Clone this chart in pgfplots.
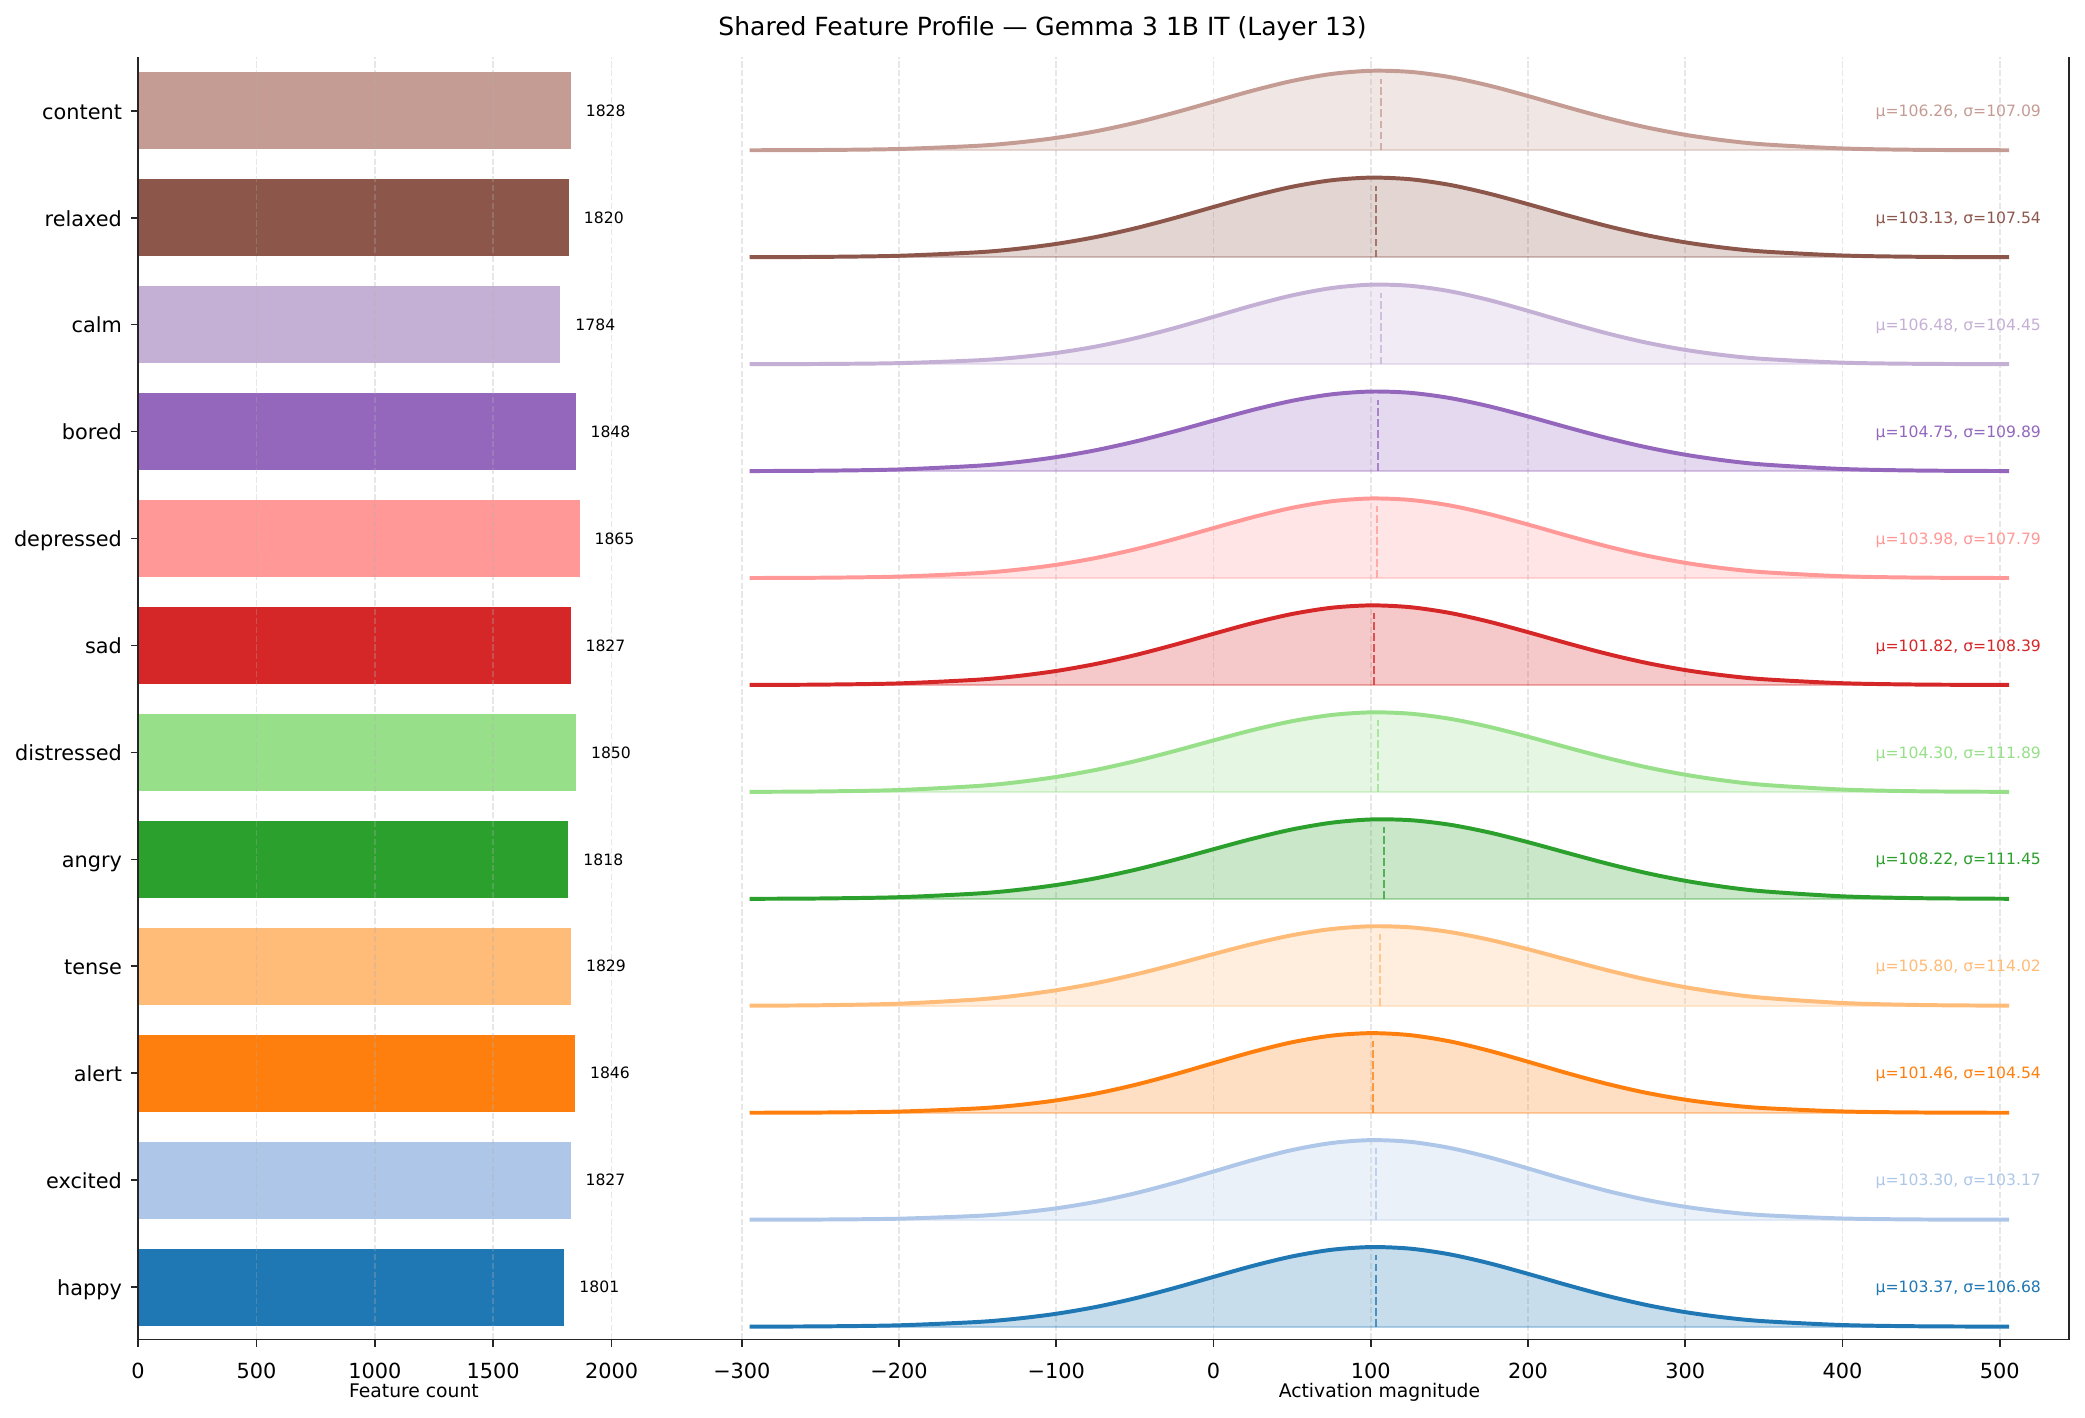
\documentclass[border=0pt]{standalone}
\usepackage{fontspec}
\setmainfont{DejaVu Sans}
\usepackage{pgfplots}
\usepackage{pgfplotstable}
\pgfplotsset{compat=1.18}

\definecolor{cHappy}{HTML}{1F77B4}
\definecolor{cExcited}{HTML}{AEC7E8}
\definecolor{cAlert}{HTML}{FF7F0E}
\definecolor{cTense}{HTML}{FFBB78}
\definecolor{cAngry}{HTML}{2CA02C}
\definecolor{cDistressed}{HTML}{98DF8A}
\definecolor{cSad}{HTML}{D62728}
\definecolor{cDepressed}{HTML}{FF9896}
\definecolor{cBored}{HTML}{9467BD}
\definecolor{cCalm}{HTML}{C5B0D5}
\definecolor{cRelaxed}{HTML}{8C564B}
\definecolor{cContent}{HTML}{C49C94}
\definecolor{gridgray}{RGB}{176,176,176}
\definecolor{spine}{RGB}{38,38,38}

% normalised density (peak = 1) of each emotion's activations
\pgfplotstableread{
x happy excited alert tense angry distressed sad depressed bored calm relaxed content
-295 0.0009 0.0006 0.0008 0.0021 0.0014 0.0017 0.0012 0.0011 0.0013 0.0006 0.0011 0.0009
-250 0.0041 0.0028 0.0035 0.0077 0.0057 0.0066 0.0052 0.0046 0.0055 0.0030 0.0046 0.0040
-200 0.0175 0.0133 0.0156 0.0274 0.0218 0.0248 0.0207 0.0188 0.0214 0.0135 0.0188 0.0168
-150 0.0596 0.0491 0.0554 0.0807 0.0683 0.0756 0.0673 0.0623 0.0681 0.0491 0.0626 0.0571
-125 0.1011 0.0864 0.0957 0.1289 0.1120 0.1225 0.1120 0.1047 0.1124 0.0858 0.1054 0.0971
-100 0.1625 0.1435 0.1562 0.1962 0.1746 0.1888 0.1767 0.1669 0.1763 0.1417 0.1680 0.1565
-75  0.2471 0.2246 0.2406 0.2845 0.2589 0.2769 0.2643 0.2519 0.2624 0.2210 0.2536 0.2387
-50  0.3558 0.3316 0.3501 0.3932 0.3651 0.3864 0.3750 0.3605 0.3710 0.3256 0.3628 0.3449
-25  0.4848 0.4615 0.4811 0.5179 0.4895 0.5129 0.5044 0.4888 0.4981 0.4528 0.4918 0.4718
0    0.6254 0.6058 0.6244 0.6502 0.6241 0.6476 0.6432 0.6280 0.6349 0.5947 0.6314 0.6112
25   0.7635 0.7498 0.7653 0.7780 0.7567 0.7779 0.7779 0.7646 0.7685 0.7377 0.7680 0.7499
50   0.8824 0.8751 0.8859 0.8871 0.8725 0.8889 0.8920 0.8822 0.8833 0.8640 0.8851 0.8711
75   0.9653 0.9631 0.9685 0.9642 0.9565 0.9663 0.9699 0.9645 0.9640 0.9556 0.9664 0.9583
100  0.9995 0.9995 0.9999 0.9987 0.9973 0.9993 0.9999 0.9993 0.9991 0.9981 0.9996 0.9983
125  0.9797 0.9781 0.9750 0.9859 0.9887 0.9830 0.9774 0.9812 0.9832 0.9844 0.9795 0.9848
150  0.9089 0.9026 0.8978 0.9276 0.9321 0.9200 0.9059 0.9129 0.9187 0.9169 0.9094 0.9200
175  0.7982 0.7855 0.7808 0.8318 0.8357 0.8190 0.7962 0.8049 0.8152 0.8064 0.7999 0.8139
200  0.6635 0.6445 0.6413 0.7109 0.7124 0.6937 0.6635 0.6725 0.6868 0.6698 0.6665 0.6817
225  0.5221 0.4987 0.4975 0.5790 0.5775 0.5589 0.5243 0.5325 0.5495 0.5253 0.5262 0.5408
250  0.3888 0.3639 0.3645 0.4494 0.4452 0.4283 0.3928 0.3995 0.4175 0.3891 0.3935 0.4062
275  0.2741 0.2504 0.2521 0.3325 0.3264 0.3123 0.2790 0.2840 0.3012 0.2721 0.2788 0.2890
300  0.1829 0.1624 0.1647 0.2345 0.2275 0.2166 0.1880 0.1914 0.2063 0.1797 0.1872 0.1947
325  0.1156 0.0994 0.1017 0.1576 0.1508 0.1429 0.1201 0.1222 0.1342 0.1121 0.1191 0.1242
350  0.0691 0.0573 0.0592 0.1009 0.0951 0.0897 0.0727 0.0739 0.0829 0.0660 0.0717 0.0750
400  0.0209 0.0160 0.0170 0.0358 0.0325 0.0304 0.0227 0.0230 0.0271 0.0193 0.0221 0.0232
450  0.0051 0.0035 0.0039 0.0105 0.0091 0.0085 0.0057 0.0058 0.0072 0.0045 0.0055 0.0058
506  0.0008 0.0005 0.0006 0.0021 0.0017 0.0016 0.0010 0.0010 0.0013 0.0007 0.0009 0.0009
}\ridges

\pgfplotsset{
  panel/.style={
    scale only axis, height=615.5pt,
    anchor=south west,
    ymin=-0.49, ymax=11.5,
    axis x line*=bottom,
    axis line style={-, line width=0.8pt, spine},
    tick align=outside, major tick length=3.5pt,
    tick style={line width=0.8pt, spine},
    xmajorgrids,
    grid style={line width=0.8pt, gridgray, opacity=0.3, dash pattern=on 2.96pt off 1.28pt},
    xticklabel style={font=\fontsize{10}{12}\selectfont, anchor=base, inner sep=0pt, yshift=-15pt},
    yticklabel style={font=\fontsize{10}{12}\selectfont, anchor=base east, inner sep=0pt, xshift=-4pt, yshift=-4pt},
    xlabel style={font=\fontsize{9}{11}\selectfont, at={(axis description cs:0.5,0)}, anchor=base, inner sep=0pt, yshift=-28pt},
    /pgf/number format/assume math mode=true,
    /pgf/number format/1000 sep={},
  },
  cbar/.style={xbar, bar width=0.72, bar shift=0pt, fill=#1, draw=none,
    nodes near coords,
    every node near coord/.append style={font=\fontsize{7.5}{9}\selectfont, text=black, anchor=west, inner sep=0pt, xshift=7pt}},
}

% #1 column, #2 colour, #3 row, #4 baseline, #5 top of mean line, #6 mean, #7 sigma
\newcommand{\ridge}[7]{%
  \addplot[draw=none, fill=#2, fill opacity=0.25, smooth] table[x=x, y expr={\thisrow{#1}*0.745+(#4)}] {\ridges};
  \addplot[#2, draw opacity=0.35, line width=0.8pt] coordinates {(-295,#4) (506,#4)};
  \addplot[#2, opacity=0.75, line width=1pt, dash pattern=on 3.7pt off 1.6pt] coordinates {(#6,#4) (#6,#5)};
  \addplot[#2, line width=1.9pt, smooth] table[x=x, y expr={\thisrow{#1}*0.745+(#4)}] {\ridges};
  \node[anchor=base east, inner sep=0pt, text=#2, font=\fontsize{7.5}{9}\selectfont, yshift=-2.7pt] at (axis cs:526.5,#3) {μ=#6, σ=#7};
}

\begin{document}
\begin{tikzpicture}
\useasboundingbox (-66.24pt,-37.2pt) rectangle (934.6pt,643pt);

\begin{axis}[panel, at={(0pt,0pt)}, width=264.96pt,
  xmin=0, xmax=2331,
  axis y line*=left,
  axis on top,
  xtick={0,500,1000,1500,2000}, xticklabels={0,500,1000,1500,2000},
  ytick={0,1,2,3,4,5,6,7,8,9,10,11},
  yticklabels={happy,excited,alert,tense,angry,distressed,sad,depressed,bored,calm,relaxed,content},
  xlabel={Feature count}]
\addplot[cbar=cHappy] coordinates {(1801,0)};
\addplot[cbar=cExcited] coordinates {(1827,1)};
\addplot[cbar=cAlert] coordinates {(1846,2)};
\addplot[cbar=cTense] coordinates {(1829,3)};
\addplot[cbar=cAngry] coordinates {(1818,4)};
\addplot[cbar=cDistressed] coordinates {(1850,5)};
\addplot[cbar=cSad] coordinates {(1827,6)};
\addplot[cbar=cDepressed] coordinates {(1865,7)};
\addplot[cbar=cBored] coordinates {(1848,8)};
\addplot[cbar=cCalm] coordinates {(1784,9)};
\addplot[cbar=cRelaxed] coordinates {(1820,10)};
\addplot[cbar=cContent] coordinates {(1828,11)};
\end{axis}

\begin{axis}[panel, at={(264.96pt,0pt)}, width=661.9pt,
  xmin=-333, xmax=544,
  axis y line*=right, ytick=\empty,
  xtick={-300,-200,-100,0,100,200,300,400,500},
  xticklabels={−300,−200,−100,0,100,200,300,400,500},
  xlabel={Activation magnitude}]
\ridge{happy}{cHappy}{0}{-0.37}{0.30}{103.37}{106.68}
\ridge{excited}{cExcited}{1}{0.63}{1.30}{103.30}{103.17}
\ridge{alert}{cAlert}{2}{1.63}{2.30}{101.46}{104.54}
\ridge{tense}{cTense}{3}{2.63}{3.30}{105.80}{114.02}
\ridge{angry}{cAngry}{4}{3.63}{4.30}{108.22}{111.45}
\ridge{distressed}{cDistressed}{5}{4.63}{5.30}{104.30}{111.89}
\ridge{sad}{cSad}{6}{5.63}{6.30}{101.82}{108.39}
\ridge{depressed}{cDepressed}{7}{6.63}{7.30}{103.98}{107.79}
\ridge{bored}{cBored}{8}{7.63}{8.30}{104.75}{109.89}
\ridge{calm}{cCalm}{9}{8.63}{9.30}{106.48}{104.45}
\ridge{relaxed}{cRelaxed}{10}{9.63}{10.30}{103.13}{107.54}
\ridge{content}{cContent}{11}{10.63}{11.30}{106.26}{107.09}
\end{axis}

\node[font=\fontsize{12}{14.4}\selectfont, anchor=base] at (434.2pt,625.8pt) {Shared Feature Profile — Gemma 3 1B IT (Layer 13)};
\end{tikzpicture}
\end{document}
